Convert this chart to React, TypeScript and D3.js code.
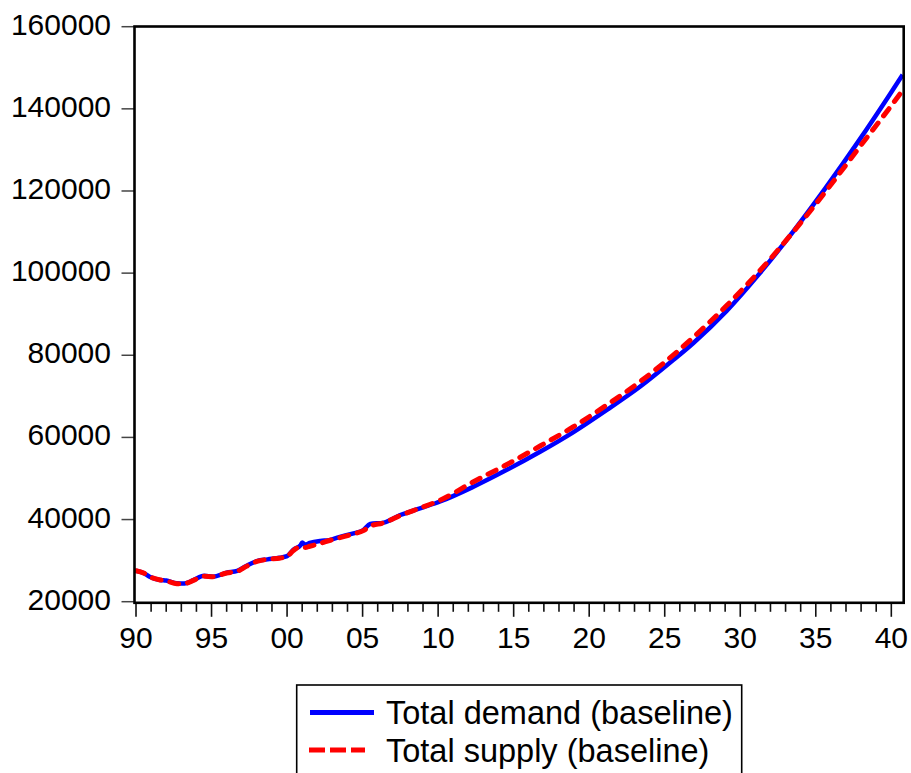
import { useEffect, useRef } from "react";
import * as d3 from "d3";

// dates as decimal years (quarterly series)
const dates = [
  1990.0, 1990.5, 1990.9, 1991.6, 1992.0, 1992.7, 1993.2, 1993.8, 1994.5, 1995.1,
  1996.0, 1996.7, 1997.3, 1998.0, 1998.7, 1999.5, 2000.0, 2000.4, 2000.9, 2001.0,
  2001.2, 2001.5, 2002.2, 2002.8, 2003.5, 2004.4, 2005.05, 2005.5, 2006.4, 2007.5,
  2008.8, 2010.13, 2012.34, 2014.55, 2016.75, 2018.96, 2021.17, 2023.38, 2025.58, 2026.9,
  2029.1, 2031.3, 2033.5, 2035.7, 2037.9, 2039.9, 2040.75,
];

const demand = [
  27550, 27000, 26100, 25300, 25150, 24500, 24450, 25250, 26300, 26100,
  27050, 27500, 28700, 29900, 30300, 30700, 31100, 32600, 33800, 34400,
  33900, 34300, 34800, 35000, 35800, 36650, 37450, 38900, 39250, 41100,
  42750, 44400, 48000, 52100, 56500, 61300, 66700, 72400, 78900, 83000,
  90800, 100000, 110100, 121000, 132500, 143500, 148300,
];

const supply = [
  27550, 27000, 26100, 25300, 25100, 24400, 24400, 25200, 26200, 26100,
  27000, 27400, 28600, 29800, 30300, 30600, 31000, 32400, 33400, 33300,
  33200, 33500, 34200, 34900, 35600, 36500, 37300, 38400, 39200, 41000,
  42800, 44700, 49200, 53400, 57900, 62600, 67900, 73600, 80100, 84400,
  92100, 100600, 110000, 120100, 130700, 140300, 144500,
];

const yTicks = [20000, 40000, 60000, 80000, 100000, 120000, 140000, 160000];
const xMajor = [1990, 1995, 2000, 2005, 2010, 2015, 2020, 2025, 2030, 2035, 2040];
const xLabels = ["90", "95", "00", "05", "10", "15", "20", "25", "30", "35", "40"];
const legendItems = ["Total demand (baseline)", "Total supply (baseline)"];

const W = 911;
const H = 773;
const FONT = "'Liberation Sans', Arial, sans-serif";

export default function App() {
  const ref = useRef<SVGSVGElement | null>(null);

  useEffect(() => {
    if (!ref.current) return;
    const svg = d3.select(ref.current);
    svg.selectAll("*").remove();

    const left = 134.5, right = 903.7, top = 26.5, bottom = 602.8;
    const x = d3.scaleLinear().domain([1989.9, 2040.82]).range([left, right]);
    const y = d3.scaleLinear().domain([20000, 160000]).range([601.7, 26.7]);

    svg.append("defs").append("clipPath").attr("id", "plot")
      .append("rect").attr("x", left).attr("y", top)
      .attr("width", right - left).attr("height", bottom - top);

    // y ticks + labels
    const yg = svg.append("g");
    yTicks.forEach(v => {
      yg.append("line")
        .attr("x1", 121.5).attr("x2", left).attr("y1", y(v)).attr("y2", y(v))
        .attr("stroke", "#444").attr("stroke-width", 1.5);
      yg.append("text")
        .attr("x", 111).attr("y", y(v) + 8)
        .attr("text-anchor", "end")
        .attr("font-family", FONT).attr("font-size", 30)
        .text(v);
    });

    // x ticks: minor every year, major every 5
    const xg = svg.append("g");
    d3.range(1990, 2041).forEach(yr => {
      const major = yr % 5 === 0;
      xg.append("line")
        .attr("x1", x(yr)).attr("x2", x(yr))
        .attr("y1", bottom).attr("y2", bottom + (major ? 14 : 9))
        .attr("stroke", "#111").attr("stroke-width", 1.6);
    });
    xMajor.forEach((yr, i) => {
      xg.append("text")
        .attr("x", x(yr)).attr("y", 648)
        .attr("text-anchor", "middle")
        .attr("font-family", FONT).attr("font-size", 30)
        .text(xLabels[i]);
    });

    const line = d3.line<number>()
      .x((_, i) => x(dates[i]))
      .y(d => y(d))
      .curve(d3.curveMonotoneX);

    const pg = svg.append("g").attr("clip-path", "url(#plot)");
    pg.append("path").attr("d", line(demand) ?? "")
      .attr("fill", "none").attr("stroke", "#0000ff").attr("stroke-width", 4.5);
    pg.append("path").attr("d", line(supply) ?? "")
      .attr("fill", "none").attr("stroke", "#ff0000").attr("stroke-width", 5)
      .attr("stroke-dasharray", "9 9").attr("stroke-linecap", "round");

    // frame
    svg.append("rect")
      .attr("x", left).attr("y", top)
      .attr("width", right - left).attr("height", bottom - top)
      .attr("fill", "none").attr("stroke", "#000").attr("stroke-width", 2.6);

    // legend
    const lg = svg.append("g");
    lg.append("rect")
      .attr("x", 296.7).attr("y", 685).attr("width", 445).attr("height", 120)
      .attr("fill", "#fff").attr("stroke", "#000").attr("stroke-width", 1.6);
    lg.append("line")
      .attr("x1", 310).attr("x2", 374).attr("y1", 712.5).attr("y2", 712.5)
      .attr("stroke", "#0000ff").attr("stroke-width", 5);
    lg.append("line")
      .attr("x1", 309).attr("x2", 365).attr("y1", 750).attr("y2", 750)
      .attr("stroke", "#ff0000").attr("stroke-width", 5)
      .attr("stroke-dasharray", "16 5");
    legendItems.forEach((t, i) => {
      lg.append("text")
        .attr("x", 386).attr("y", 724 + i * 37.5)
        .attr("font-family", FONT).attr("font-size", 32.5)
        .text(t);
    });
  }, []);

  return (
    <svg
      ref={ref}
      width={W}
      height={H}
      style={{ position: "absolute", left: 0, top: 0, background: "#fff" }}
    />
  );
}
